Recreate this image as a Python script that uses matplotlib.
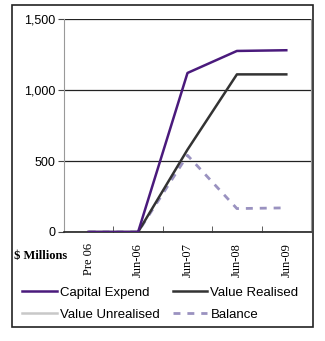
import matplotlib.pyplot as plt
from matplotlib.patches import Rectangle
import numpy as np

categories = ['Pre 06', 'Jun-06', 'Jun-07', 'Jun-08', 'Jun-09']
capital_expend = [0, 0, 1120, 1275, 1280]
value_realised = [0, 0, 580, 1110, 1110]
value_unrealised = [0, 0, 0, 0, 0]
balance = [0, 0, 540, 165, 170]

fig = plt.figure(figsize=(3.25, 3.41), dpi=100)
W, H = 325, 341
ax = fig.add_axes([64 / W, 1 - 232 / H, (311 - 64) / W, (232 - 19) / H])

x = np.arange(len(categories))
ax.plot(x, value_unrealised, color='#c8c8c8', lw=1.8, label='Value Unrealised', zorder=2)
ax.plot(x, balance, color='#9a92c0', lw=2, ls=(0, (2.5, 2.5)), label='Balance', zorder=3)
ax.plot(x, value_realised, color='#333333', lw=1.8, label='Value Realised', zorder=4)
ax.plot(x, capital_expend, color='#4a1a7c', lw=1.8, label='Capital Expend', zorder=5)

ax.set_xlim(-0.5, len(categories) - 0.5)
ax.set_ylim(0, 1500)
ax.set_yticks([0, 500, 1000, 1500])
ax.set_yticklabels(['0', '500', '1,000', '1,500'], family='Liberation Sans', fontsize=9)
ax.yaxis.grid(True, color='#222222', lw=0.9)
ax.set_axisbelow(True)

ax.set_xticks(x)
ax.set_xticklabels(categories, rotation=90, family='Liberation Serif', fontsize=9)
ax.set_xticks(np.arange(-0.5, len(categories)), minor=True)
ax.tick_params(axis='x', which='major', length=0, pad=8)
ax.tick_params(axis='x', which='minor', length=4, direction='in', color='#444444')
ax.tick_params(axis='y', length=4, direction='out', color='#444444', pad=2)

for s in ['left', 'right', 'top']:
    ax.spines[s].set_color('#999999')
ax.spines['top'].set_visible(False)
ax.spines['bottom'].set_color('#222222')
ax.spines['bottom'].set_linewidth(1.2)

fig.text(14 / W, 1 - 256 / H, '$ Millions', family='Liberation Serif', fontweight='bold',
         fontsize=9, va='center', ha='left')

handles, labels = ax.get_legend_handles_labels()
order = [3, 0, 2, 1]
leg = fig.legend([handles[i] for i in order], [labels[i] for i in order],
                 loc='upper left', bbox_to_anchor=(17 / W, 1 - 281 / H), ncol=2,
                 frameon=False, prop={'family': 'Liberation Sans', 'size': 9.5},
                 handlelength=2.6, handletextpad=0.25, columnspacing=1.0,
                 labelspacing=0.75, borderaxespad=0)

fig.patches.append(Rectangle((12 / W, 1 - 327 / H), (313 - 12) / W, (327 - 5) / H,
                             transform=fig.transFigure, fill=False, ec='#222222', lw=1.2))

fig.savefig('out.png', dpi=100)
